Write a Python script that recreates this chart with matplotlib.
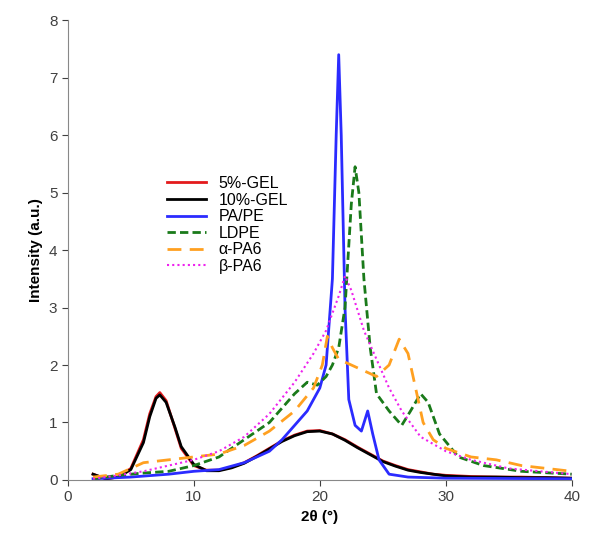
import matplotlib
matplotlib.use("Agg")
import matplotlib.pyplot as plt
import numpy as np

plt.rcParams['font.family'] = ['Liberation Sans', 'DejaVu Sans']

gel_x = [2,3,4,5,6,6.5,7,7.3,7.8,8.5,9,10,11,12,13,14,15,16,17,18,19,20,21,22,23,24,25,26,27,28,29,30,32,34,36,38,40]
gel5_y = [0.1,0.02,0.05,0.2,0.7,1.15,1.45,1.52,1.38,0.9,0.55,0.25,0.17,0.17,0.22,0.3,0.42,0.55,0.68,0.78,0.85,0.86,0.8,0.7,0.57,0.45,0.33,0.25,0.18,0.14,0.1,0.08,0.06,0.05,0.05,0.04,0.03]
gel10_y = [0.1,0.02,0.05,0.18,0.65,1.1,1.42,1.48,1.35,0.92,0.58,0.27,0.16,0.16,0.21,0.29,0.41,0.54,0.67,0.77,0.84,0.85,0.8,0.69,0.56,0.44,0.32,0.24,0.17,0.13,0.1,0.07,0.05,0.05,0.04,0.04,0.03]
pape_x = [2,5,8,10,12,14,16,17,18,19,20,20.5,21,21.3,21.5,21.7,22,22.3,22.8,23.3,23.8,24.2,24.7,25.5,27,30,40]
pape_y = [0.02,0.05,0.1,0.15,0.18,0.3,0.5,0.7,0.95,1.2,1.6,2.0,3.5,6.0,7.4,6.0,3.0,1.4,0.95,0.85,1.2,0.8,0.35,0.1,0.05,0.03,0.02]
ldpe_x = [2,4,6,8,10,12,14,16,17,18,19,19.8,20.5,21,21.5,22,22.5,22.8,23.1,23.5,24,24.5,25.5,26.5,27.2,28,28.6,29.5,31,33,36,40]
ldpe_y = [0.02,0.08,0.12,0.15,0.25,0.4,0.7,1.0,1.25,1.5,1.7,1.65,1.8,2.0,2.3,3.0,4.8,5.45,5.0,3.5,2.3,1.5,1.2,0.95,1.2,1.5,1.35,0.8,0.4,0.25,0.15,0.1]
apa_x = [2,4,5,6,8,10,12,14,16,18,19.5,20.2,20.6,21,21.5,22.5,23.5,24.5,25.5,26.3,27,27.5,28.2,29,30,32,34,36,38,40]
apa_y = [0.05,0.1,0.2,0.3,0.35,0.4,0.45,0.6,0.85,1.2,1.6,2.0,2.5,2.3,2.1,2.0,1.9,1.8,2.0,2.45,2.2,1.7,1.0,0.7,0.55,0.4,0.35,0.25,0.2,0.15]
bpa_x = [2,4,6,8,10,12,14,16,18,19.5,20.5,21.5,22,22.5,23.5,24.5,25.5,26.5,28,30,32,35,40]
bpa_y = [0.02,0.08,0.15,0.25,0.35,0.5,0.75,1.15,1.7,2.2,2.6,3.2,3.55,3.3,2.6,2.1,1.6,1.2,0.75,0.5,0.35,0.2,0.1]

fig = plt.figure(figsize=(5.95, 5.46), dpi=100)
ax = fig.add_axes([0.114, 0.121, 0.847, 0.842])
ax.plot(gel_x, gel5_y, color='#e31a1c', lw=2, label='5%-GEL')
ax.plot(gel_x, gel10_y, color='black', lw=2, label='10%-GEL')
ax.plot(pape_x, pape_y, color='#2b2bff', lw=2, label='PA/PE')
ax.plot(ldpe_x, ldpe_y, color='#1a7a1a', lw=2, ls=(0, (3, 1.5)), label='LDPE')
ax.plot(apa_x, apa_y, color='#ffa020', lw=2, ls=(0, (5, 3)), label='α-PA6')
ax.plot(bpa_x, bpa_y, color='#ee22ee', lw=1.5, ls=(0, (1, 1.5)), label='β-PA6')
ax.set_xlim(0, 40)
ax.set_ylim(0, 8)
ax.set_xticks(range(0, 41, 10))
ax.set_yticks(range(0, 9))
ax.tick_params(labelsize=11, colors='#404040', direction='out', length=4)
for s in ['top', 'right']:
    ax.spines[s].set_visible(False)
for s in ['left', 'bottom']:
    ax.spines[s].set_color('#888888')
ax.set_xlabel('2θ (°)', fontsize=11, fontweight='bold')
ax.set_ylabel('Intensity (a.u.)', fontsize=11, fontweight='bold')
ax.legend(loc='upper left', bbox_to_anchor=(0.185, 0.675), frameon=False, fontsize=11.5,
          handlelength=2.4, labelspacing=0.1, borderaxespad=0)
fig.savefig('out.png', dpi=100)
